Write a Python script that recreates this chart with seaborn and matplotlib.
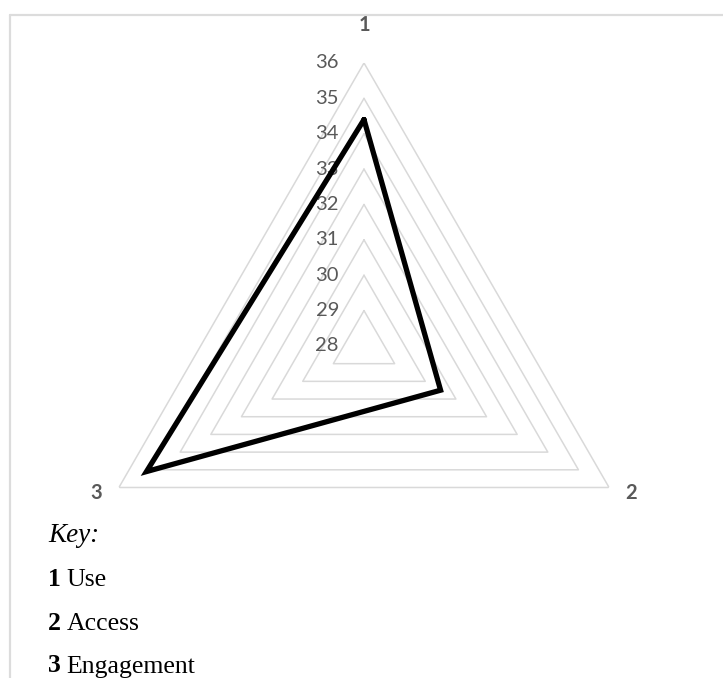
import numpy as np
import pandas as pd
import matplotlib
matplotlib.use('Agg')
import matplotlib.pyplot as plt
from matplotlib.lines import Line2D
import seaborn as sns

# data
axis_labels = ['1', '2', '3']
scores = [34.4, 30.5, 35.1]
ring_levels = [29, 30, 31, 32, 33, 34, 35, 36]
tick_labels = ['28', '29', '30', '31', '32', '33', '34', '35', '36']
key_numbers = ['1', '2', '3']
key_names = ['Use', 'Access', 'Engagement']

sns.set_theme(style='white')
plt.rcParams['font.family'] = ['Lato', 'DejaVu Sans']

fig = plt.figure(figsize=(7.23, 6.78), dpi=100)
ax = fig.add_axes([0.1120, 0.0723, 0.7829, 0.8348], projection='polar')

n = len(axis_labels)
theta = np.pi / 2 - 2 * np.pi * np.arange(n) / n
theta_closed = np.append(theta, theta[0])

# triangular grid rings
for lvl in ring_levels:
    ax.plot(theta_closed, [lvl] * (n + 1), color='#d9d9d9', lw=1.1, zorder=1)

df = pd.DataFrame({'theta': theta_closed, 'score': scores + scores[:1]})
sns.lineplot(data=df, x='theta', y='score', sort=False, estimator=None,
             color='black', lw=3.8, ax=ax, zorder=3, solid_joinstyle='miter')

ax.set_ylim(28, 36)
ax.grid(False)
ax.set_xticks([])
ax.set_yticks([])
ax.set_xlabel('')
ax.set_ylabel('')
ax.spines['polar'].set_visible(False)
ax.patch.set_alpha(0)

# value labels along axis 1
for lab in tick_labels:
    ax.annotate(lab, xy=(np.pi / 2, float(lab)), xytext=(-18, 0),
                textcoords='offset points', ha='right', va='center',
                color='#595959', fontsize=14.5, zorder=2)

# category labels
offsets = [(0, 20), (12, -4), (-12, -4)]
aligns = [('center', 'bottom'), ('left', 'center'), ('right', 'center')]
for lab, th, off, (ha, va) in zip(axis_labels, theta, offsets, aligns):
    ax.annotate(lab, xy=(th, 36), xytext=off, textcoords='offset points',
                ha=ha, va=va, color='#595959', fontsize=14.5, fontweight='bold',
                annotation_clip=False)

# frame
fig.add_artist(Line2D([10 / 723, 1], [1 - 15 / 678, 1 - 15 / 678],
                      transform=fig.transFigure, color='#dcdcdc', lw=1.6))
fig.add_artist(Line2D([10 / 723, 10 / 723], [0, 1 - 15 / 678],
                      transform=fig.transFigure, color='#dcdcdc', lw=1.6))

# key
serif = ['Liberation Serif', 'DejaVu Serif']
fig.text(48 / 723, 1 - 536 / 678, 'Key:', family=serif, style='italic',
         fontsize=19.5, va='center', ha='left', color='black')
for i, (num, name) in enumerate(zip(key_numbers, key_names)):
    y = 1 - (580 + 43 * i) / 678
    t = fig.text(48 / 723, y, num, family=serif, fontweight='bold',
                 fontsize=18.5, va='center', ha='left', color='black')
    ax.annotate(name, xy=(1, 0), xycoords=t, xytext=(4, 0),
                textcoords='offset points', family=serif, fontsize=18.5,
                va='bottom', ha='left', color='black', annotation_clip=False)

fig.savefig('out.png', dpi=100)
